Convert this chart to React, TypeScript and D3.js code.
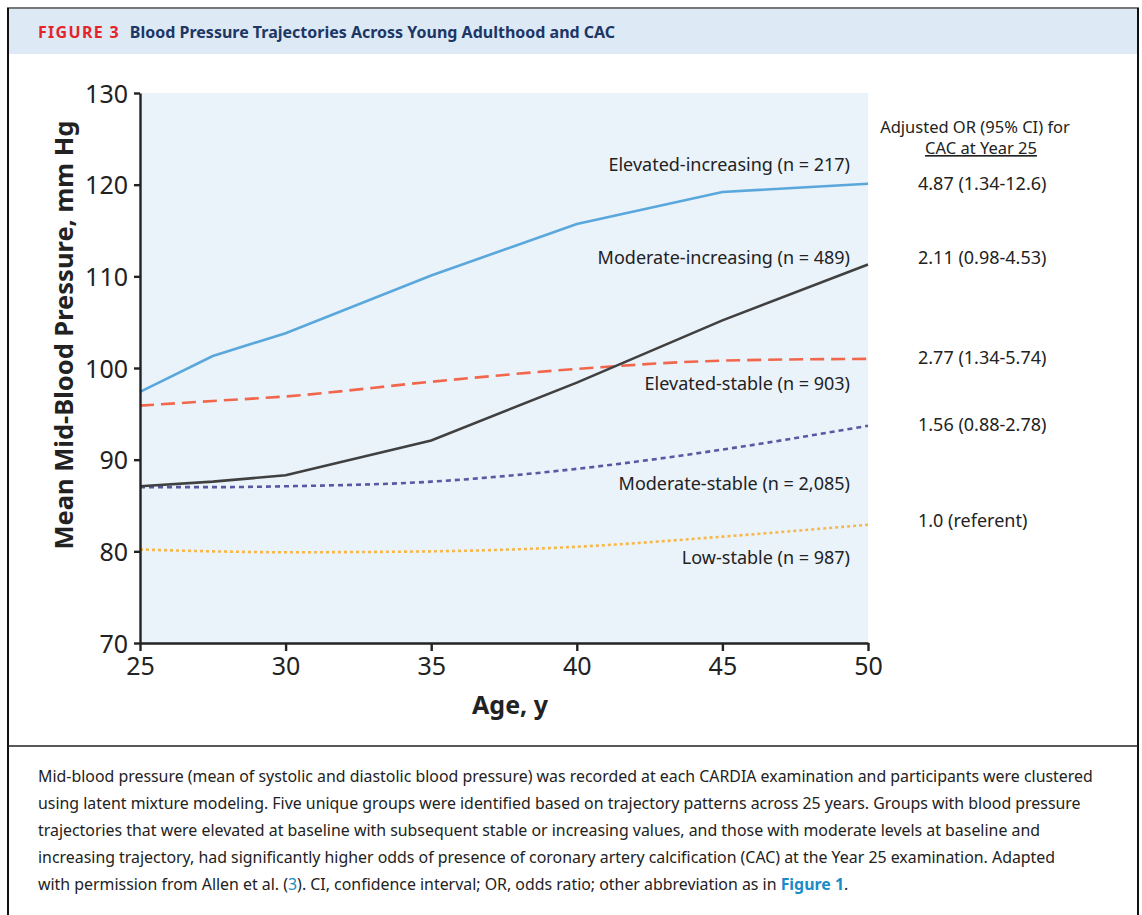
import React, { useRef, useEffect } from "react";
import * as d3 from "d3";

const ages = [25, 27.5, 30, 35, 40, 45, 50];

const elevatedIncreasing = [97.4, 101.3, 103.8, 110.1, 115.7, 119.2, 120.1];
const moderateIncreasing = [87.1, 87.6, 88.3, 92.1, 98.4, 105.2, 111.3];
const elevatedStable = [95.9, 96.4, 96.9, 98.5, 99.9, 100.8, 101.0];
const moderateStable = [87.0, 87.0, 87.1, 87.6, 89.0, 91.1, 93.7];
const lowStable = [80.2, 80.0, 79.9, 80.0, 80.5, 81.6, 82.9];

const groupLabels = [
  "Elevated-increasing (n = 217)",
  "Moderate-increasing (n = 489)",
  "Elevated-stable (n = 903)",
  "Moderate-stable (n = 2,085)",
  "Low-stable (n = 987)",
];
const oddsRatios = [
  "4.87 (1.34-12.6)",
  "2.11 (0.98-4.53)",
  "2.77 (1.34-5.74)",
  "1.56 (0.88-2.78)",
  "1.0 (referent)",
];
// where the text sits, in data units (label y, OR y)
const labelY = [121.5, 111.4, 97.6, 86.7, 78.6];
const orY = [120.1, 112.0, 101.1, 93.8, 83.3];

const xTicks = [25, 30, 35, 40, 45, 50];
const yTicks = [70, 80, 90, 100, 110, 120, 130];

const caption = [
  "Mid-blood pressure (mean of systolic and diastolic blood pressure) was recorded at each CARDIA examination and participants were clustered",
  "using latent mixture modeling. Five unique groups were identified based on trajectory patterns across 25 years. Groups with blood pressure",
  "trajectories that were elevated at baseline with subsequent stable or increasing values, and those with moderate levels at baseline and",
  "increasing trajectory, had significantly higher odds of presence of coronary artery calcification (CAC) at the Year 25 examination. Adapted",
];

const FONT = "'Noto Sans', 'Open Sans', sans-serif";

const App = () => {
  const svgRef = useRef(null);

  useEffect(() => {
    const width = 1142;
    const height = 915;
    const svg = d3.select(svgRef.current);
    svg.attr("width", width).attr("height", height);
    svg.selectAll("*").remove();

    const left = 140, right = 868, top = 93, bottom = 643;

    const x = d3.scaleLinear().domain([25, 50]).range([left, right]);
    const y = d3.scaleLinear().domain([70, 130]).range([bottom, top]);

    // frame + header
    svg.append("rect").attr("x", 0).attr("y", 0).attr("width", width).attr("height", height).attr("fill", "#fff");
    svg.append("rect").attr("x", 8).attr("y", 9).attr("width", 1130).attr("height", 45).attr("fill", "#dde9f5");
    svg.append("line").attr("x1", 7).attr("x2", 1139).attr("y1", 8).attr("y2", 8).attr("stroke", "#777").attr("stroke-width", 2);
    svg.append("line").attr("x1", 8).attr("x2", 8).attr("y1", 8).attr("y2", height).attr("stroke", "#111").attr("stroke-width", 2);
    svg.append("line").attr("x1", 1138).attr("x2", 1138).attr("y1", 8).attr("y2", height).attr("stroke", "#111").attr("stroke-width", 2);
    svg.append("line").attr("x1", 8).attr("x2", 1138).attr("y1", 746).attr("y2", 746).attr("stroke", "#222").attr("stroke-width", 1.5);

    const head = svg.append("text").attr("x", 38).attr("y", 38).attr("font-family", FONT).attr("font-size", 16).attr("font-weight", "bold");
    head.append("tspan").attr("fill", "#e3242b").attr("letter-spacing", 1.3).text("FIGURE 3");
    head.append("tspan").attr("dx", 10).attr("fill", "#1c3765").text("Blood Pressure Trajectories Across Young Adulthood and CAC");

    // plot background
    svg.append("rect").attr("x", left).attr("y", top).attr("width", right - left).attr("height", bottom - top).attr("fill", "#eaf2fa");

    const g = svg.append("g");

    const series = [
      { values: elevatedIncreasing, color: "#5aa7dc", dash: null, curve: d3.curveLinear },
      { values: moderateIncreasing, color: "#404040", dash: null, curve: d3.curveLinear },
      { values: elevatedStable, color: "#f2674b", dash: "14,7", curve: d3.curveMonotoneX },
      { values: moderateStable, color: "#5a58a2", dash: "5,4", curve: d3.curveMonotoneX },
      { values: lowStable, color: "#f7b84a", dash: "3,3", curve: d3.curveMonotoneX },
    ];

    series.slice().reverse().forEach((s) => {
      const line = d3
        .line()
        .x((d, i) => x(ages[i]))
        .y((d) => y(d))
        .curve(s.curve);
      g.append("path")
        .attr("d", line(s.values))
        .attr("fill", "none")
        .attr("stroke", s.color)
        .attr("stroke-width", 2.6)
        .attr("stroke-dasharray", s.dash);
    });

    // axes
    const xAxis = svg.append("g").attr("transform", `translate(0,${bottom})`)
      .call(d3.axisBottom(x).tickValues(xTicks).tickSize(8).tickSizeOuter(0).tickPadding(6));
    const yAxis = svg.append("g").attr("transform", `translate(${left},0)`)
      .call(d3.axisLeft(y).tickValues(yTicks).tickSize(6).tickSizeOuter(0).tickPadding(6));
    [xAxis, yAxis].forEach((a) => {
      a.select(".domain").attr("stroke", "#222").attr("stroke-width", 2.4);
      a.selectAll(".tick line").attr("stroke", "#222").attr("stroke-width", 2.4);
      a.selectAll(".tick text").attr("fill", "#222").attr("font-family", FONT).attr("font-size", 25);
    });
    yAxis.selectAll(".tick text").attr("dy", "0.36em");

    svg.append("text")
      .attr("transform", `translate(73,335) rotate(-90)`)
      .attr("text-anchor", "middle")
      .attr("font-family", FONT).attr("font-size", 25.5).attr("font-weight", "bold").attr("fill", "#222")
      .text("Mean Mid-Blood Pressure, mm Hg");
    svg.append("text")
      .attr("x", 510).attr("y", 714)
      .attr("text-anchor", "middle")
      .attr("font-family", FONT).attr("font-size", 25).attr("font-weight", "bold").attr("fill", "#222")
      .text("Age, y");

    // group labels
    groupLabels.forEach((t, i) => {
      svg.append("text")
        .attr("x", 850).attr("y", y(labelY[i]))
        .attr("text-anchor", "end")
        .attr("font-family", FONT).attr("font-size", 18).attr("fill", "#222")
        .text(t);
    });

    // OR column
    svg.append("text").attr("x", 975).attr("y", 133).attr("text-anchor", "middle")
      .attr("font-family", FONT).attr("font-size", 16.5).attr("fill", "#222").text("Adjusted OR (95% CI) for");
    svg.append("text").attr("x", 981).attr("y", 154).attr("text-anchor", "middle")
      .attr("font-family", FONT).attr("font-size", 16.5).attr("fill", "#222")
      .attr("text-decoration", "underline").text("CAC at Year 25");
    oddsRatios.forEach((t, i) => {
      svg.append("text")
        .attr("x", 918).attr("y", y(orY[i]) + 6)
        .attr("font-family", FONT).attr("font-size", 18).attr("fill", "#222")
        .text(t);
    });

    // caption
    const capSize = 15.9;
    caption.forEach((t, i) => {
      svg.append("text")
        .attr("x", 38).attr("y", 782 + i * 27)
        .attr("font-family", FONT).attr("font-size", capSize).attr("fill", "#222")
        .text(t);
    });
    const last = svg.append("text").attr("x", 38).attr("y", 782 + 4 * 27)
      .attr("font-family", FONT).attr("font-size", capSize).attr("fill", "#222");
    last.append("tspan").text("with permission from Allen et al. (");
    last.append("tspan").attr("fill", "#1a8cc8").text("3");
    last.append("tspan").text("). CI, confidence interval; OR, odds ratio; other abbreviation as in ");
    last.append("tspan").attr("fill", "#1a8cc8").attr("font-weight", "bold").text("Figure 1");
    last.append("tspan").text(".");
  }, []);

  return (
    <svg
      ref={svgRef}
      style={{ position: "absolute", left: 0, top: 0, display: "block" }}
    />
  );
};

export default App;
